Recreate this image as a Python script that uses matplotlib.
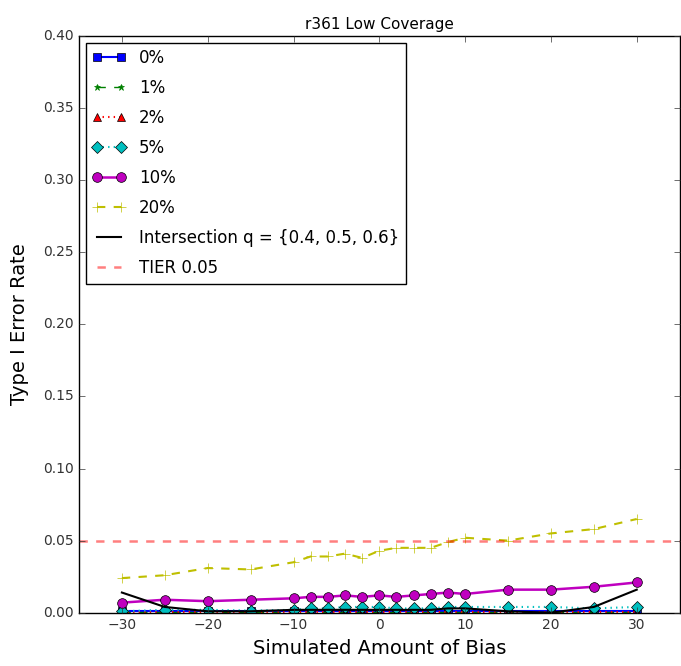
import matplotlib
matplotlib.use("Agg")
import matplotlib.pyplot as plt

plt.style.use("classic")

# simulated bias values (x axis)
bias = [-30, -25, -20, -15, -10, -8, -6, -4, -2, 0, 2, 4, 6, 8, 10, 15, 20, 25, 30]

# type I error rates per contamination level
err_0 = [0.001, 0.001, 0.001, 0.001, 0.001, 0.001, 0.001, 0.001, 0.001, 0.001,
         0.001, 0.001, 0.001, 0.001, 0.001, 0.001, 0.001, 0.001, 0.001]
err_1 = [0.0005, 0.0005, 0.0005, 0.0005, 0.0005, 0.0005, 0.0005, 0.0005, 0.0005, 0.0005,
         0.0005, 0.0005, 0.0005, 0.0005, 0.0005, 0.0005, 0.0005, 0.0005, 0.0005]
err_2 = [0.0008, 0.0008, 0.0008, 0.0008, 0.0008, 0.0008, 0.0008, 0.0008, 0.0008, 0.0008,
         0.0008, 0.0008, 0.0008, 0.0008, 0.0008, 0.0008, 0.0008, 0.0008, 0.0008]
err_5 = [0.001, 0.002, 0.002, 0.0015, 0.002, 0.003, 0.003, 0.004, 0.004, 0.004,
         0.003, 0.003, 0.003, 0.004, 0.004, 0.004, 0.004, 0.003, 0.004]
err_10 = [0.007, 0.009, 0.008, 0.009, 0.010, 0.011, 0.011, 0.012, 0.011, 0.012,
          0.011, 0.012, 0.013, 0.014, 0.013, 0.016, 0.016, 0.018, 0.021]
err_20 = [0.024, 0.026, 0.031, 0.030, 0.035, 0.039, 0.039, 0.041, 0.038, 0.043,
          0.045, 0.045, 0.045, 0.049, 0.052, 0.050, 0.055, 0.058, 0.065]
intersect = [0.014, 0.004, 0.001, 0.001, 0.002, 0.002, 0.002, 0.002, 0.002, 0.002,
             0.002, 0.002, 0.002, 0.003, 0.003, 0.001, 0.000, 0.004, 0.016]
tier = 0.05

fig = plt.figure(figsize=(6.81, 6.66), dpi=100, facecolor="white")
ax = fig.add_axes([0.116, 0.08, 0.882, 0.866])

ax.plot(bias, err_0, "bs-", label="0%", markersize=6, linewidth=1.5)
ax.plot(bias, err_1, "g*--", label="1%", markersize=5, markeredgecolor="g")
ax.plot(bias, err_2, "r^:", label="2%", markersize=6, linewidth=1.5)
ax.plot(bias, err_5, "cD:", label="5%", markersize=6, linewidth=1.5)
ax.plot(bias, err_10, "mo-", label="10%", markersize=7, linewidth=1.8)
ax.plot(bias, err_20, "y+--", label="20%", markersize=7, linewidth=1.5)
ax.plot(bias, intersect, "k-", label="Intersection q = {0.4, 0.5, 0.6}", linewidth=1.5)
ax.axhline(tier, color="r", linestyle="--", alpha=0.5, linewidth=1.8, label="TIER 0.05")

ax.set_xlim(-35, 35)
ax.set_ylim(0, 0.4)
ax.set_xticks([-30, -20, -10, 0, 10, 20, 30])
ax.set_yticks([0.0, 0.05, 0.10, 0.15, 0.20, 0.25, 0.30, 0.35, 0.40])
ax.set_yticklabels(["0.00", "0.05", "0.10", "0.15", "0.20", "0.25", "0.30", "0.35", "0.40"])
ax.tick_params(labelsize=10, colors="#333333")
ax.set_title("r361 Low Coverage", fontsize=11)
ax.set_xlabel("Simulated Amount of Bias", fontsize=14)
ax.set_ylabel("Type I Error Rate", fontsize=14, labelpad=10)
ax.legend(loc="upper left", fontsize=12, numpoints=2, labelspacing=0.72,
          borderaxespad=0.4)

fig.savefig("out.png", dpi=100, facecolor="white")
